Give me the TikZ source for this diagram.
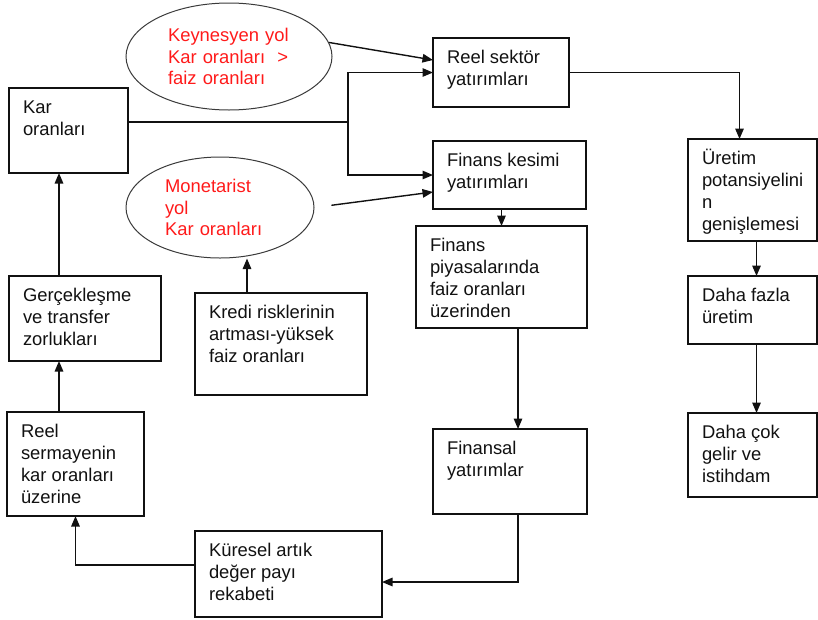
\documentclass[tikz,border=0pt]{standalone}
\usepackage{fontspec}
\setmainfont{Liberation Sans}
\usepackage{tikz}
\usetikzlibrary{
    arrows.meta,
    calc,
    positioning,
    shapes.geometric
}
\definecolor{ink}     {HTML}{111111}
\definecolor{pathred} {HTML}{FF1A1A}
\definecolor{ovalline}{HTML}{3A3A3A}

% box text: width, height of the box, lines
\newcommand{\boxtext}[3]{%
    \parbox[c][\dimexpr#2-16pt\relax][t]{\dimexpr#1-28pt\relax}%
        {\raggedright\rule{0pt}{17pt}#3}}

\begin{document}
\begin{tikzpicture}[
    x=1pt, y=1pt,
    line join=miter,
    >={Triangle[length=10.5pt, width=8.5pt]},
    %% --- styles ---
    flowbox/.style   = {rectangle, draw=ink, line width=1.4pt, anchor=north west,
                        inner xsep=14pt, inner ysep=8pt, outer sep=0pt,
                        text=ink, font=\fontsize{18.4}{22}\selectfont},
    pathoval/.style  = {ellipse, draw=ovalline, line width=1pt, inner sep=0pt,
                        align=left, text=pathred,
                        font=\fontsize{18.4}{21.5}\selectfont},
    link/.style      = {->, draw=ink, line width=1.4pt},
    plainlink/.style = {draw=ink, line width=1.4pt}
]
\useasboundingbox (0,0) rectangle (818,-619);

%% =====================================================
%% Left column
%% =====================================================
\node[flowbox] (kar) at (9,-88)
    {\boxtext{119pt}{85pt}{Kar\\oranları}};
\node[flowbox] (gercek) at (9,-276)
    {\boxtext{152pt}{85pt}{Gerçekleşme\\ve transfer\\zorlukları}};
\node[flowbox] (sermaye) at (7,-412)
    {\boxtext{137pt}{104pt}{Reel\\sermayenin\\kar oranları\\üzerine}};

%% =====================================================
%% Two paths (ellipses) and credit risk
%% =====================================================
\node[pathoval, minimum width=206pt, minimum height=107pt, text width=122pt]
    (keynes) at (229,-56.5) {Keynesyen yol\\Kar oranları \ >\\faiz oranları};
\node[pathoval, minimum width=188pt, minimum height=101pt, text width=110pt]
    (monet) at (220,-207.5) {Monetarist\\yol\\Kar oranları};
\node[flowbox] (kredi) at (195,-293)
    {\boxtext{172pt}{102pt}{Kredi risklerinin\\artması-yüksek\\faiz oranları}};
\node[flowbox] (kuresel) at (195,-531)
    {\boxtext{187pt}{86pt}{Küresel artık\\değer payı\\rekabeti}};

%% =====================================================
%% Investments
%% =====================================================
\node[flowbox] (reel) at (433,-38)
    {\boxtext{136pt}{69pt}{Reel sektör\\yatırımları}};
\node[flowbox] (fin) at (433,-141)
    {\boxtext{153pt}{68pt}{Finans kesimi\\yatırımları}};
\node[flowbox] (piyasa) at (416,-226)
    {\boxtext{171pt}{102pt}{Finans\\piyasalarında\\faiz oranları\\üzerinden}};
\node[flowbox] (finansal) at (433,-429)
    {\boxtext{154pt}{85pt}{Finansal\\yatırımlar}};

%% =====================================================
%% Right column
%% =====================================================
\node[flowbox] (uretim) at (688,-139)
    {\boxtext{129pt}{102pt}{Üretim\\potansiyelini\\n\\genişlemesi}};
\node[flowbox] (fazla) at (688,-276)
    {\boxtext{129pt}{68pt}{Daha fazla\\üretim}};
\node[flowbox] (gelir) at (688,-413)
    {\boxtext{129pt}{84pt}{Daha çok\\gelir ve\\istihdam}};

%% =====================================================
%% Connectors
%% =====================================================
\coordinate (split)     at (348,-122);
\coordinate (leftrail)  at (59,0);
\coordinate (kredirail) at (247,0);

% profit rates split into both kinds of investment
\draw[plainlink] (kar.east |- split) -- (split);
\draw[link] (split) |- (reel.west);
\draw[link] (split) |- (fin.west);

\draw[link] (keynes.8) -- ([yshift=12.5pt]reel.west);
\draw[link, shorten <=17pt] (monet.east) -- ([yshift=-17pt]fin.west);
\draw[link] (kredi.north -| kredirail) -- (monet.south -| kredirail);

% real side
\draw[link] (reel.east) -| ([xshift=-13pt]uretim.north);
\draw[link] ([xshift=4pt]uretim.south) -- ([xshift=4pt]fazla.north);
\draw[link] ([xshift=4pt]fazla.south) -- ([xshift=4pt]gelir.north);

% financial side and the loop back
\draw[link] (fin.south -| piyasa.north) -- (piyasa.north);
\draw[link] ([xshift=8pt]finansal.north |- piyasa.south) -- ([xshift=8pt]finansal.north);
\draw[link] ([xshift=8pt]finansal.south) |- ([yshift=-8pt]kuresel.east);
\draw[link] ([yshift=9pt]kuresel.west) -| (sermaye.south);
\draw[link] (sermaye.north -| leftrail) -- (gercek.south -| leftrail);
\draw[link] (gercek.north -| leftrail) -- (kar.south -| leftrail);

\end{tikzpicture}
\end{document}
